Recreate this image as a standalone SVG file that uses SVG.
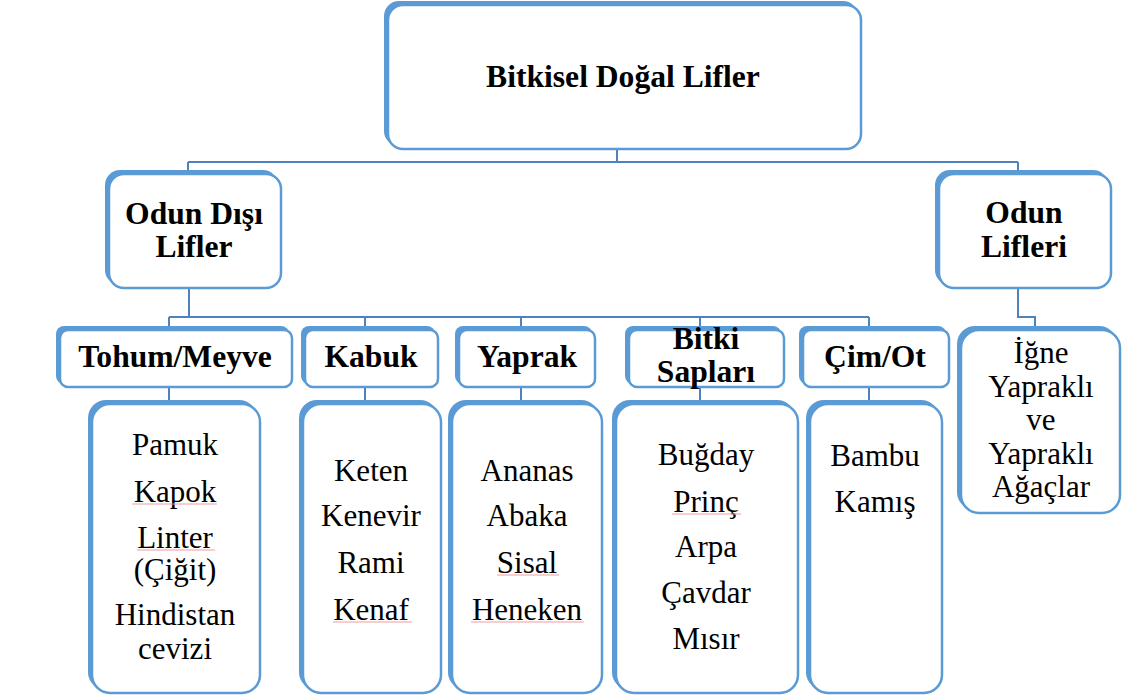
<svg xmlns="http://www.w3.org/2000/svg" width="1123" height="695" viewBox="0 0 1123 695" font-family="Liberation Serif, Times New Roman, DejaVu Serif, serif">
<style>
.sh{fill:#5B9BD5}
.bx{fill:#fff;stroke:#5B9BD5;stroke-width:2.5}
.cn{fill:none;stroke:#4F81BD;stroke-width:2}
.b{font-weight:bold;font-size:31.6px;fill:#000;text-anchor:middle}
.r{font-size:31px;fill:#000;text-anchor:middle}
.sq{stroke:#F29B9B;stroke-width:1.2}
</style>
<rect width="1123" height="695" fill="#fff"/>
<g id="connectors">
<path class="cn" d="M617 149V162M188 162H1018M188 162V172M1018 162V172"/>
<path class="cn" d="M189 288V317M169 317H869M169 317V328M365 317V328M521 317V328M700 317V328M869 317V328"/>
<path class="cn" d="M169 387V402M365 387V402M521 387V402M700 387V402M869 387V402"/>
<path class="cn" d="M1018 288V317H1035V326"/>
</g>
<g id="n-root">
<rect class="sh" x="384" y="1" width="474" height="145" rx="15"/>
<rect class="bx" x="388" y="5" width="473" height="144" rx="15"/>
<text class="b" x="623" y="87">Bitkisel Doğal Lifler</text>
</g>
<g id="n-odun-disi">
<rect class="sh" x="105" y="170" width="173" height="115" rx="15"/>
<rect class="bx" x="109" y="174" width="172" height="114" rx="15"/>
<text class="b" x="194" y="224">Odun Dışı</text>
<text class="b" x="194" y="257">Lifler</text>
</g>
<g id="n-odun">
<rect class="sh" x="935" y="170" width="173" height="115" rx="15"/>
<rect class="bx" x="939" y="174" width="172" height="114" rx="15"/>
<text class="b" x="1024" y="223">Odun</text>
<text class="b" x="1024" y="257">Lifleri</text>
</g>
<g id="n-tohum">
<rect class="sh" x="56" y="326" width="233" height="58" rx="8"/>
<rect class="bx" x="60" y="330" width="232" height="57" rx="8"/>
<text class="b" x="175" y="367">Tohum/Meyve</text>
</g>
<g id="n-kabuk">
<rect class="sh" x="301" y="326" width="134" height="58" rx="8"/>
<rect class="bx" x="305" y="330" width="133" height="57" rx="8"/>
<text class="b" x="371" y="367">Kabuk</text>
</g>
<g id="n-yaprak">
<rect class="sh" x="455" y="326" width="137" height="58" rx="8"/>
<rect class="bx" x="459" y="330" width="136" height="57" rx="8"/>
<text class="b" x="527" y="367">Yaprak</text>
</g>
<g id="n-bitki">
<rect class="sh" x="625" y="326" width="156" height="58" rx="8"/>
<rect class="bx" x="629" y="330" width="155" height="57" rx="8"/>
<text class="b" x="706" y="349">Bitki</text>
<text class="b" x="706" y="382">Sapları</text>
</g>
<g id="n-cim">
<rect class="sh" x="799" y="326" width="147" height="58" rx="8"/>
<rect class="bx" x="803" y="330" width="146" height="57" rx="8"/>
<text class="b" x="875" y="367">Çim/Ot</text>
</g>
<g id="n-igne">
<rect class="sh" x="957" y="326" width="160" height="184" rx="18"/>
<rect class="bx" x="961" y="330" width="159" height="183" rx="18"/>
<text class="r" x="1041" y="363">İğne</text>
<text class="r" x="1041" y="397">Yapraklı</text>
<text class="r" x="1041" y="430">ve</text>
<text class="r" x="1041" y="464">Yapraklı</text>
<text class="r" x="1041" y="497">Ağaçlar</text>
</g>
<g id="n-tohum-list">
<rect class="sh" x="88" y="400" width="169" height="290" rx="18"/>
<rect class="bx" x="92" y="404" width="168" height="289" rx="18"/>
<text class="r" x="175" y="455">Pamuk</text>
<text class="r" x="175" y="502">Kapok</text>
<text class="r" x="175" y="548">Linter</text>
<text class="r" x="175" y="580">(Çiğit)</text>
<text class="r" x="175" y="625">Hindistan</text>
<text class="r" x="175" y="659">cevizi</text>
</g>
<g id="n-kabuk-list">
<rect class="sh" x="299" y="400" width="139" height="290" rx="18"/>
<rect class="bx" x="303" y="404" width="138" height="289" rx="18"/>
<text class="r" x="371" y="481">Keten</text>
<text class="r" x="371" y="526">Kenevir</text>
<text class="r" x="371" y="573">Rami</text>
<text class="r" x="371" y="620">Kenaf</text>
</g>
<g id="n-yaprak-list">
<rect class="sh" x="448" y="400" width="151" height="290" rx="18"/>
<rect class="bx" x="452" y="404" width="150" height="289" rx="18"/>
<text class="r" x="527" y="481">Ananas</text>
<text class="r" x="527" y="526">Abaka</text>
<text class="r" x="527" y="573">Sisal</text>
<text class="r" x="527" y="620">Heneken</text>
</g>
<g id="n-bitki-list">
<rect class="sh" x="612" y="400" width="183" height="290" rx="18"/>
<rect class="bx" x="616" y="404" width="182" height="289" rx="18"/>
<text class="r" x="706" y="465">Buğday</text>
<text class="r" x="706" y="512">Prinç</text>
<text class="r" x="706" y="557">Arpa</text>
<text class="r" x="706" y="603">Çavdar</text>
<text class="r" x="706" y="649">Mısır</text>
</g>
<g id="n-cim-list">
<rect class="sh" x="806" y="400" width="133" height="290" rx="18"/>
<rect class="bx" x="810" y="404" width="132" height="289" rx="18"/>
<text class="r" x="875" y="466">Bambu</text>
<text class="r" x="875" y="512">Kamış</text>
</g>
<g id="spellmarks">
<path class="sq" d="M132 504H217M137 550H215M672 514H741M333 622H412M497 575H559M471 622H584"/>
</g>
</svg>
